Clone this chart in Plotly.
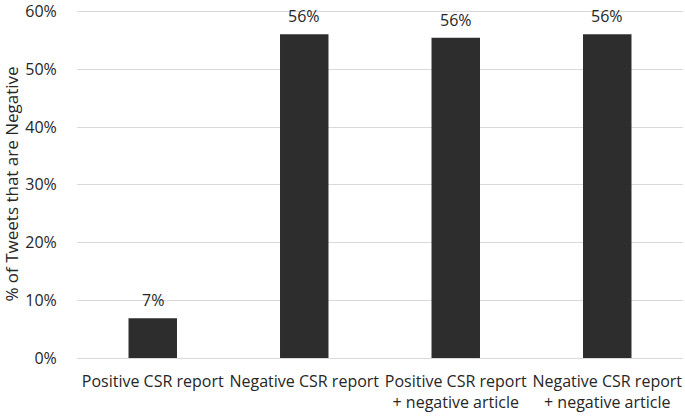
import plotly.graph_objects as go

categories = ["Positive CSR report", "Negative CSR report",
              "Positive CSR report<br>+ negative article",
              "Negative CSR report<br>+ negative article"]
values = [6.9, 56.1, 55.5, 56.1]
labels = ["7%", "56%", "56%", "56%"]
tick_vals = [0, 10, 20, 30, 40, 50, 60]
tick_text = ["0%", "10%", "20%", "30%", "40%", "50%", "60%"]

FONT = "Open Sans"
TXT = "#262626"
fig = go.Figure(go.Bar(
    x=categories, y=values,
    marker=dict(color="#2d2d2d", line=dict(width=0)),
))
for c, v, t in zip(categories, values, labels):
    fig.add_annotation(x=c, y=v, text=t, showarrow=False, yanchor="bottom",
                       yshift=5, font=dict(family=FONT, size=16, color=TXT))
fig.update_layout(
    width=685, height=416,
    margin=dict(l=77, r=2, t=10, b=58, autoexpand=False),
    paper_bgcolor="white", plot_bgcolor="white",
    bargap=0.68, showlegend=False,
    font=dict(family=FONT, size=16, color=TXT),
)
fig.update_yaxes(range=[0, 60.3], tickvals=tick_vals, ticktext=tick_text,
                 showgrid=True, gridcolor="#d9d9d9", gridwidth=1,
                 zeroline=False, showline=False,
                 ticks="outside", ticklen=16, tickcolor="rgba(0,0,0,0)",
                 automargin=False, ticklabeloverflow="allow",
                 tickfont=dict(family=FONT, size=16, color=TXT),
                 title=dict(text="% of Tweets that are Negative",
                            font=dict(family=FONT, size=17, color=TXT), standoff=14))
fig.update_xaxes(showline=True, linecolor="#d9d9d9", linewidth=1,
                 ticks="outside", ticklen=9, tickcolor="rgba(0,0,0,0)",
                 automargin=False, ticklabeloverflow="allow",
                 tickfont=dict(family=FONT, size=16, color=TXT))
fig.write_html("out.html", config={"displayModeBar": False},
               post_script="document.body.style.margin='0';document.body.style.overflow='hidden';")
